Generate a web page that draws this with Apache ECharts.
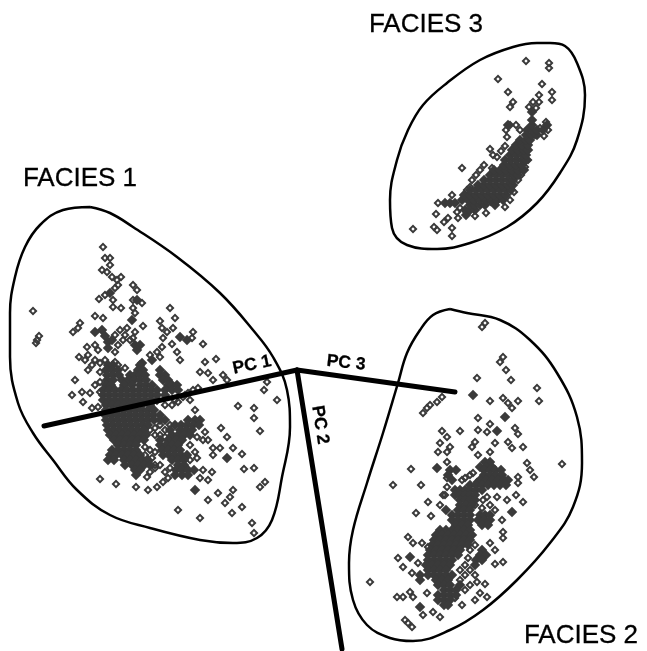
<!DOCTYPE html>
<html><head><meta charset="utf-8">
<style>html,body{margin:0;padding:0;background:#fff}#c{width:647px;height:651px}</style>
<script src="https://cdn.jsdelivr.net/npm/echarts@6/dist/echarts.min.js"></script>
</head><body><div id="c"></div>
<script>
const outline1=[[90,207],[63,210],[40,225],[25,247],[15,277],[10,313],[10,357],[18,403],[33,433],[53,460],[77,490],[110,515],[150,528],[200,540],[233,543],[257,538],[272,520],[282,477],[290,427],[287,390],[273,357],[253,330],[220,293],[177,257],[133,227],[110,213],[90,207]];
const outline2=[[450,309],[433,315],[420,330],[407,353],[398,383],[383,433],[367,483],[353,530],[349,563],[353,600],[367,625],[390,638],[413,641],[450,630],[483,610],[517,580],[550,543],[573,507],[582,463],[577,417],[557,373],[530,340],[500,320],[467,313],[450,309]];
const outline3=[[550,43],[565,46],[577,63],[585,95],[577,140],[560,173],[537,203],[507,227],[470,243],[437,249],[407,245],[392,228],[390,200],[397,160],[408,130],[423,105],[447,83],[480,60],[513,47],[537,43],[550,43]];
const pc1=[[44,426],[297,370]];
const pc2=[[297,370],[342,649]];
const pc3=[[297,370],[455,392]];
const textLabels=[
 ['FACIES 3',426,25,0,26,'normal'],['FACIES 1',80,179,0,26,'normal'],['FACIES 2',581,636,0,26,'normal'],
 ['PC 1',252,365,12,17.5,'bold'],['PC 3',346,363,-6,17.5,'bold'],['PC 2',320,425,-81,17.5,'bold']];

const sparse3=[[526,61],[549,63],[549,68],[498,79],[542,84],[508,92],[552,92],[539,95],[552,100],[513,102],[510,107],[533,102],[539,102],[536,108],[529,107],[462,168],[413,229],[452,195],[438,203],[436,214],[448,218],[444,222],[434,227],[437,230],[452,228],[452,236],[486,213],[490,149],[493,155],[497,157],[501,151],[505,146],[492,168],[484,165],[480,170],[476,175],[472,180],[470,187],[467,190],[510,125],[506,130],[507,137],[516,125],[520,130],[528,129],[540,128],[546,122],[548,130],[544,136],[535,135],[527,148],[525,155],[528,160],[525,167],[521,175],[518,180],[514,192],[510,200],[505,207],[498,200],[491,202],[485,198],[468,200],[460,208],[457,212],[458,218],[475,216]];
const core3=[[203,[445,450,455]],[215,[466]],[210,[465,470,475]],[205,[470,475,480,485,495]],[200,[462,468,474,480,486,491,497,503]],[195,[464,470,476,482,488,494,500,506]],[190,[470,476,482,488,494,500,506,511]],[185,[478,484,490,496,502,508,513]],[180,[484,490,496,502,508,513]],[175,[490,496,502,508,514,518]],[170,[494,500,506,512,518,524]],[165,[504,510,516,522]],[160,[505,511,517,523,526]],[155,[510,516,522,526]],[150,[512,518,524,528]],[145,[516,522,528]],[140,[520,526,530]],[135,[526,532,537]],[130,[527,532,537,543]],[125,[508,532,547]],[120,[532]],[112,[532]]];

const sparse1=[[103,247],[105,258],[110,258],[102,270],[110,265],[107,272],[112,277],[117,280],[121,277],[118,285],[115,288],[105,295],[99,299],[113,300],[113,307],[121,308],[133,285],[137,290],[133,300],[142,303],[133,308],[135,313],[33,311],[39,336],[36,343],[37,340],[95,316],[103,318],[80,323],[78,328],[73,332],[143,326],[170,308],[175,318],[160,321],[162,328],[167,332],[173,328],[193,332],[192,338],[203,344],[163,338],[162,347],[172,344],[177,352],[180,360],[160,357],[205,362],[216,359],[200,372],[208,373],[213,380],[223,375],[227,380],[267,382],[264,390],[277,400],[238,406],[254,408],[254,418],[260,431],[221,428],[227,437],[213,448],[220,448],[213,455],[233,448],[242,454],[244,469],[254,468],[265,482],[260,487],[233,490],[230,497],[225,503],[218,493],[208,500],[242,507],[232,513],[178,510],[200,518],[252,523],[254,533],[100,479],[116,484],[136,487],[147,477],[148,490],[157,487],[163,482],[203,470],[212,472],[208,480],[200,478],[79,357],[87,347],[88,355],[95,360],[88,370],[75,380],[82,392],[72,395],[90,393],[83,402],[92,408],[98,407],[120,330],[127,328],[123,340],[130,340],[150,472],[155,468],[165,472],[160,465],[195,410],[190,400],[185,395],[175,400],[165,405],[208,440],[205,432],[168,478],[170,468],[183,397],[188,393],[193,390],[198,388],[178,402],[172,405],[160,425],[165,430],[155,428],[160,435],[165,437],[155,435],[150,430],[170,425],[145,447],[150,450],[145,455],[152,458],[155,452],[148,462],[155,465],[203,440],[197,437],[190,445],[195,452],[190,460],[197,458],[115,335],[118,345],[115,352],[125,335],[135,332],[133,338],[150,355],[157,352],[100,363],[105,360],[115,362],[118,365],[125,368],[85,360],[92,365],[100,372],[95,385],[100,382],[100,392],[98,350],[95,345]];
const core1=[[300,[137]],[293,[110]],[320,[132]],[330,[102]],[332,[95]],[336,[105]],[342,[108]],[348,[108]],[340,[112]],[345,[135,140]],[350,[137]],[337,[180]],[340,[187]],[360,[152]],[363,[142]],[458,[227]],[490,[195]],[365,[108,113,140]],[370,[106,112,118,138,143,160]],[375,[107,113,119,130,135,140,145,160,165]],[380,[107,113,122,128,134,140,146,163,168]],[385,[106,111,124,132,140,146,152,168,172,177]],[390,[103,109,115,121,127,133,139,145,151,157,165,172,178]],[395,[103,109,115,121,127,133,139,145,151,157,165]],[400,[103,109,115,121,127,133,139,145,151,157]],[405,[106,112,118,124,130,136,142,150]],[410,[106,112,118,124,130,136,142,148,154]],[415,[105,111,117,123,129,135,141,147,153,160]],[420,[106,112,118,124,130,136,142,148,154,160,165,188,195,200]],[425,[107,113,119,125,131,137,143,148,175,181,187,193,199]],[430,[108,114,120,126,132,138,144,170,180,186,192]],[435,[110,116,122,128,134,140,146,172,178,184,190]],[440,[114,120,126,132,138,144,160,168,176,182]],[445,[118,124,130,136,160,166,172,178]],[450,[112,118,124,130,136,162,168,174,180]],[455,[110,116,122,128,134,140,163,169,175,181,187]],[460,[108,114,124,130,136,142,148,172,178,184]],[465,[125,132,138,144,150,178,184]],[470,[135,140,176,182,188,194]],[475,[136,175,182,188]]];

const sparse2=[[485,323],[482,327],[503,357],[500,362],[506,370],[511,380],[477,378],[537,388],[539,401],[490,401],[503,398],[508,403],[518,401],[512,408],[478,418],[490,424],[442,397],[437,402],[430,405],[427,408],[423,413],[478,430],[487,432],[460,431],[442,431],[447,437],[515,428],[518,434],[508,442],[512,448],[523,447],[475,442],[472,447],[478,455],[495,443],[490,452],[440,443],[450,447],[438,452],[447,452],[447,462],[562,464],[527,463],[530,470],[534,477],[411,469],[393,485],[421,485],[428,502],[416,513],[431,516],[518,477],[518,483],[516,495],[523,502],[507,500],[408,537],[413,543],[503,532],[503,538],[490,543],[495,550],[495,564],[503,562],[398,558],[403,567],[370,582],[412,573],[477,582],[485,584],[480,593],[487,597],[475,600],[397,597],[403,597],[410,592],[413,597],[423,615],[433,612],[440,617],[405,620],[408,623],[412,627],[462,605],[455,598],[427,593],[422,543],[428,547],[418,563],[473,473],[477,482],[497,497],[483,500],[487,497],[502,520],[460,570],[465,575],[460,580],[470,570],[465,565],[470,585],[475,575],[465,590],[470,550],[475,545],[468,558],[440,505],[445,495],[475,505],[482,508],[490,505],[495,510],[465,478],[470,475],[462,480],[447,487],[443,495],[447,478]];
const core2=[[395,[473]],[417,[505]],[431,[497]],[468,[437]],[512,[512]],[557,[410]],[607,[420]],[462,[485,490]],[467,[480,486,492]],[470,[450,456,484,490,495,501]],[475,[448,484,490,496,502]],[480,[452,480,486,492,498,504,508]],[485,[470,476,482,488,494,500,506]],[490,[455,460,465,470,476,482]],[495,[455,460,465,470,475]],[500,[460,465,470,475]],[505,[460,466,472]],[510,[446,458,464,470]],[515,[452,458,464,470,480,485,490]],[520,[452,458,464,470,478,484,490]],[525,[456,462,468,482,488]],[530,[440,446,452,458,464,470]],[535,[436,442,448,454,460,466,472]],[540,[434,440,446,452,458,464,470]],[545,[432,438,444,450,456,462,468]],[550,[430,436,442,448,454,460,482]],[555,[428,434,440,446,452,458,480,486]],[560,[428,434,440,446,452,476,482]],[565,[426,432,438,444,450,475]],[570,[428,434,440,446]],[575,[420,428,434,440,446,452]],[580,[420,436,442,448]],[585,[438,444,450,460]],[590,[444,450,456]],[595,[438,444,450,456]],[600,[438,444,450]],[605,[444,448]]];

const ink='#3a3a3a';
const ring='path://M4,0L8,4L4,8L0,4ZM4,2.5L2.5,4L4,5.5L5.5,4Z';
const rows=r=>r.flatMap(([y,xs])=>xs.map(x=>[x,y]));
const pts=(d)=>({type:'scatter',data:d,symbol:ring,symbolSize:9,itemStyle:{color:ink,opacity:1},silent:true});
const core=(d)=>({type:'scatter',data:rows(d),symbol:'diamond',symbolSize:10.5,itemStyle:{color:ink,opacity:1},silent:true});
const curve=(d)=>({type:'line',data:d,smooth:0.4,showSymbol:false,lineStyle:{color:'#000',width:2.5},silent:true});
const bar=(d)=>({type:'line',data:d,showSymbol:false,lineStyle:{color:'#000',width:5,cap:'round'},silent:true,z:5});
const chart=echarts.init(document.getElementById('c'),null,{renderer:'canvas'});
chart.setOption({
 animation:false,backgroundColor:'#fff',
 grid:{left:0,right:0,top:0,bottom:0},
 xAxis:{type:'value',min:0,max:647,show:false},
 yAxis:{type:'value',min:0,max:651,inverse:true,show:false},
 series:[pts(sparse1),core(core1),pts(sparse2),core(core2),pts(sparse3),core(core3),
  curve(outline1),curve(outline2),curve(outline3),bar(pc1),bar(pc2),bar(pc3),
  {type:'scatter',symbolSize:0,silent:true,z:6,itemStyle:{color:'#000',opacity:1},
   label:{show:true,color:'#000',opacity:1},
   data:textLabels.map(t=>({value:[t[1],t[2]],label:{show:true,position:'inside',formatter:t[0],rotate:t[3],fontSize:t[4],fontWeight:t[5],fontFamily:'Liberation Sans',color:'#000',opacity:1,textBorderColor:'#000',textBorderWidth:0.3}}))}
 ]
});
</script></body></html>
